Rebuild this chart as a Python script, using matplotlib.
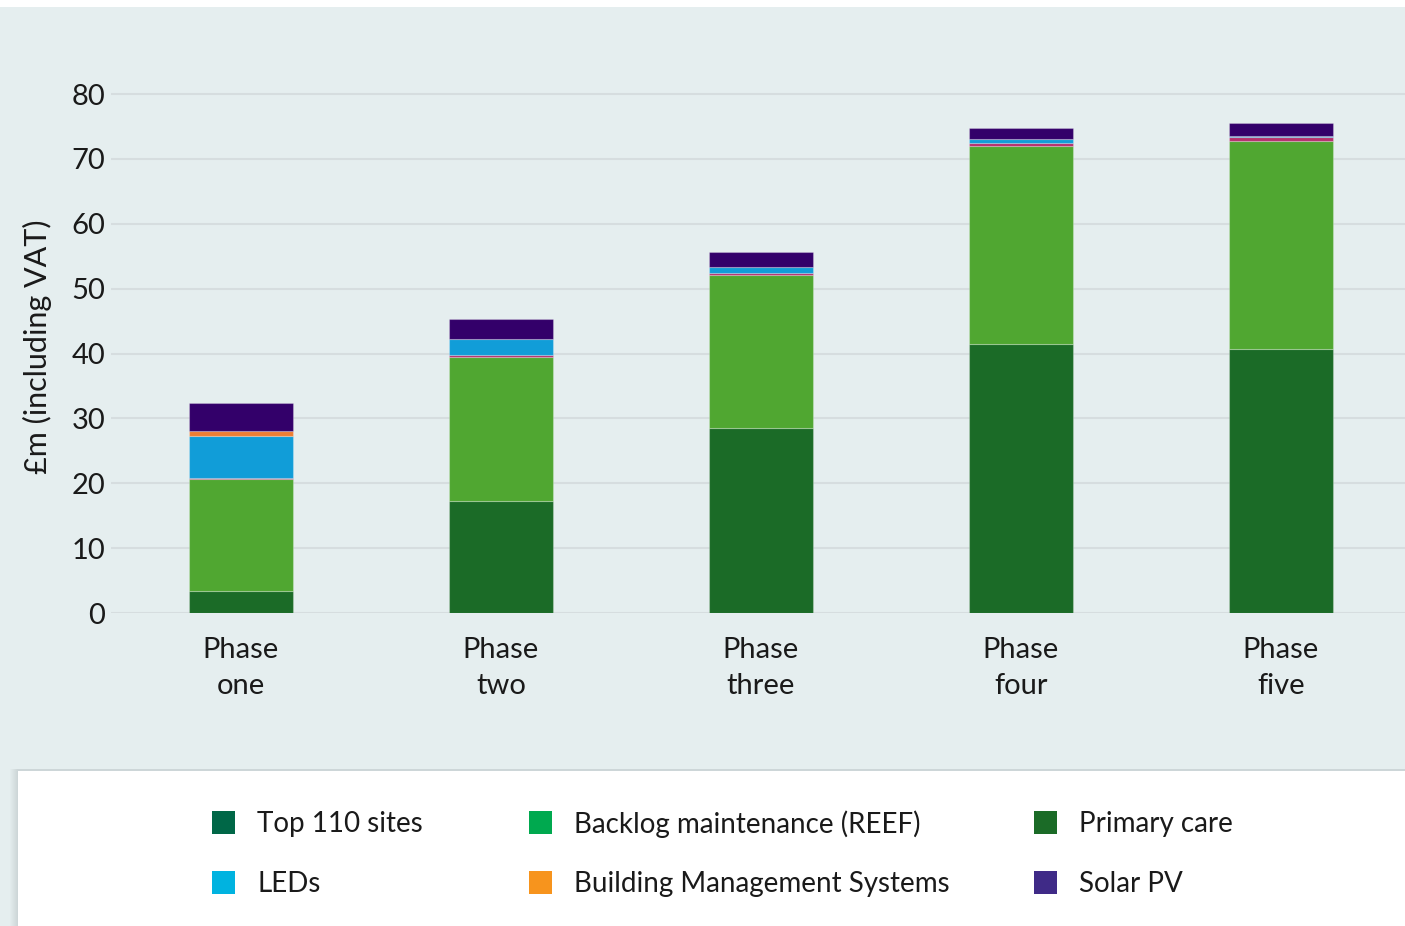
import numpy as np
import matplotlib.pyplot as plt
from matplotlib.patches import Rectangle

plt.rcParams['font.family'] = ['Lato', 'DejaVu Sans']

phases = ['Phase\none', 'Phase\ntwo', 'Phase\nthree', 'Phase\nfour', 'Phase\nfive']
series = ['Top 110 sites', 'Backlog maintenance (REEF)', 'Primary care',
          'LEDs', 'Building Management Systems', 'Solar PV']

top110 = [3.4, 17.3, 28.5, 41.45, 40.7]
backlog = [17.2, 22.2, 23.55, 30.5, 32.05]
primary = [0.15, 0.25, 0.3, 0.57, 0.65]
leds = [6.6, 2.5, 1.05, 0.5, 0.2]
bms = [0.7, 0.0, 0.0, 0.0, 0.0]
solar = [4.3, 3.1, 2.25, 1.75, 2.0]

values = [top110, backlog, primary, leds, bms, solar]
bar_colors = ['#1b6b27', '#50a731', '#b5306e', '#119dd8', '#ee7e33', '#33006a']
legend_colors = ['#006747', '#00a94f', '#1b6b27', '#00b3e0', '#f7941d', '#3f2a87']

bg = '#e5eeef'
fig = plt.figure(figsize=(14.05, 9.26), dpi=100)
fig.patch.set_facecolor('white')
fig.patches.append(Rectangle((0, 0), 1, 1 - 7 / 926, transform=fig.transFigure,
                             facecolor=bg, edgecolor='none', zorder=-10))

ax = fig.add_axes([111 / 1405, (926 - 613) / 926, 1294 / 1405, (613 - 80) / 926])
ax.set_facecolor('none')

x = np.arange(len(phases))
bottom = np.zeros(len(phases))
for vals, c in zip(values, bar_colors):
    ax.bar(x, vals, width=0.4, bottom=bottom, color=c,
           edgecolor=(1, 1, 1, 0.25), linewidth=0.8, zorder=3)
    bottom += np.array(vals)

ax.set_xlim(-0.5, 4.477)
ax.set_ylim(0, 80 + 14 / 6.4875)
ax.set_yticks(range(0, 81, 10))
ax.grid(axis='y', color='#d6dddf', linewidth=1.5, zorder=0)
for s in ax.spines.values():
    s.set_visible(False)
ax.tick_params(length=0, labelsize=21, colors='#1a1a1a')
ax.tick_params(axis='y', pad=4)
ax.tick_params(axis='x', pad=17)
ax.set_xticks(x)
ax.set_xticklabels(phases, linespacing=1.5)
ax.set_ylabel('£m (including VAT)', fontsize=22, color='#1a1a1a', labelpad=14)

# legend panel with soft shadow
for i in range(8):
    fig.patches.append(Rectangle(((18 - 8 + i) / 1405, 0), 1, (926 - 771 + 2) / 926,
                                 transform=fig.transFigure, facecolor='#9aa5a8',
                                 alpha=0.04, edgecolor='none', zorder=-5))
fig.patches.append(Rectangle((18 / 1405, 0), 1, (926 - 771) / 926, transform=fig.transFigure,
                             facecolor='white', edgecolor='none', zorder=-4))

col_x = [212, 529, 1034]
row_y = [822, 882]
for i, (lab, c) in enumerate(zip(series, legend_colors)):
    px = col_x[i % 3]
    py = row_y[i // 3]
    fig.patches.append(Rectangle((px / 1405, (926 - py - 11.5) / 926), 23 / 1405, 23 / 926,
                                 transform=fig.transFigure, facecolor=c, edgecolor='none'))
    fig.text((px + 45) / 1405, (926 - py - 2) / 926, lab, fontsize=20, color='#1a1a1a',
             va='center', ha='left')

fig.savefig('out.png', dpi=100)
